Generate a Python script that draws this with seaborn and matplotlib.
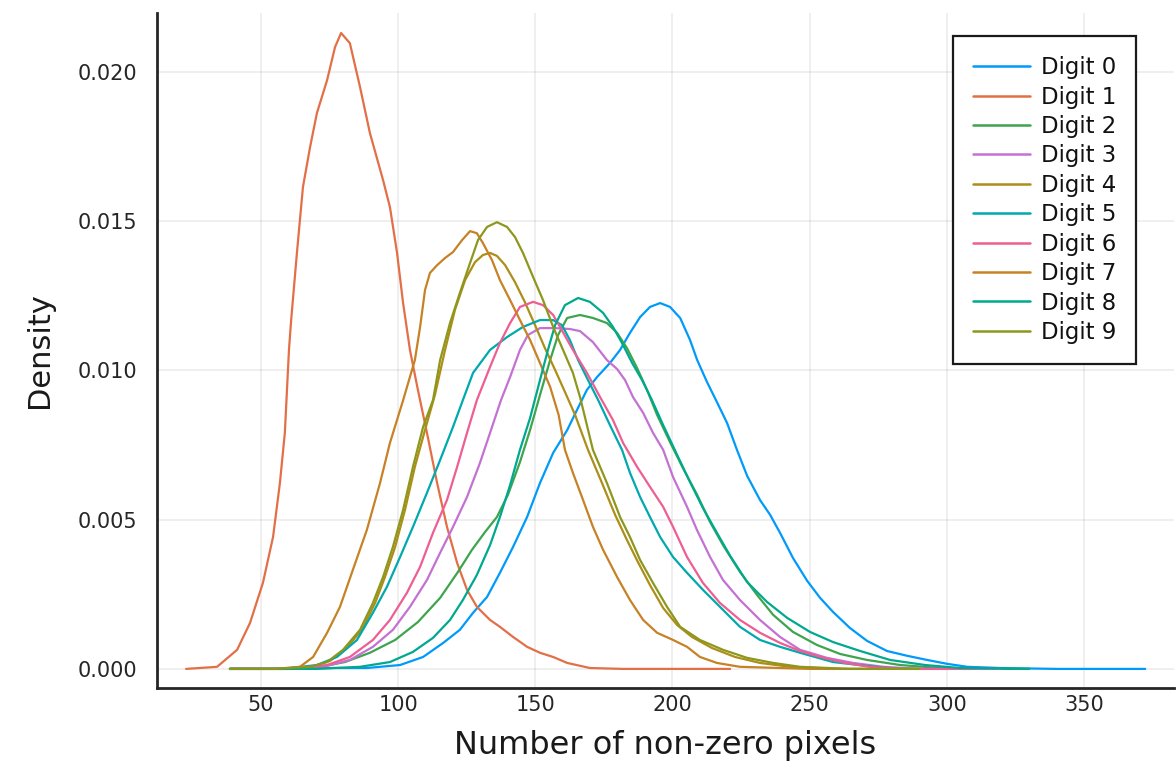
import matplotlib
matplotlib.use("Agg")
import matplotlib.pyplot as plt
from matplotlib.lines import Line2D
import pandas as pd
import seaborn as sns

# Kernel density estimates of the number of non-zero pixels, one curve per digit
digit0_x = [38.7, 64.2, 76.2, 88.6, 100.7, 109.1, 116.4, 122.5, 127.3, 132.4, 137.1, 141.9, 147.0, 151.7,
            156.5, 161.6, 165.2, 168.8, 172.5, 177.2, 180.9, 184.5, 188.2, 191.8, 195.5, 199.1, 202.8, 206.4,
            209.0, 212.6, 216.2, 219.9, 223.5, 227.2, 231.9, 235.6, 239.2, 243.9, 249.1, 253.8, 258.5, 264.7,
            270.9, 278.2, 285.5, 292.8, 300.1, 307.4, 319.4, 340.0, 372.3]
digit0_y = [0, 0, 0.00003, 0.00003, 0.00013, 0.0004, 0.00087, 0.00131, 0.00188, 0.00241, 0.00322, 0.00409,
            0.00509, 0.00623, 0.00724, 0.008, 0.00868, 0.00935, 0.00978, 0.01025, 0.01069, 0.01126, 0.01179,
            0.01213, 0.01226, 0.01213, 0.01176, 0.01102, 0.01035, 0.00961, 0.00894, 0.00824, 0.00734, 0.00647,
            0.00566, 0.00516, 0.00456, 0.00372, 0.00295, 0.00238, 0.00191, 0.00137, 0.00094, 0.0006, 0.00044,
            0.0003, 0.00017, 0.00007, 0.00003, 0.0, 0.0]

digit1_x = [22.7, 34.0, 41.3, 46.0, 50.7, 54.4, 56.9, 58.7, 60.2, 61.0, 63.1, 65.3, 67.9, 70.4, 74.1, 77.0,
            79.2, 82.4, 86.1, 89.7, 94.5, 97.0, 99.6, 101.8, 104.3, 107.2, 110.5, 114.2, 117.8, 121.5, 125.1,
            128.7, 133.5, 137.1, 141.9, 147.0, 151.7, 156.5, 161.6, 169.9, 182.0, 221.0]
digit1_y = [0, 0.00007, 0.00064, 0.00154, 0.00288, 0.00442, 0.00623, 0.00791, 0.01069, 0.01169, 0.01394,
            0.01615, 0.01749, 0.01863, 0.01973, 0.02084, 0.02131, 0.02097, 0.0195, 0.01796, 0.01638, 0.01548,
            0.01394, 0.01226, 0.01069, 0.00935, 0.00791, 0.00623, 0.00476, 0.00355, 0.00265, 0.00208, 0.00164,
            0.00141, 0.00107, 0.00074, 0.00054, 0.0004, 0.0002, 0.00003, 0.0, 0.0]

digit2_x = [38.7, 60.0, 71.5, 80.6, 89.7, 98.9, 107.2, 115.3, 121.8, 126.9, 131.7, 136.0, 140.0, 144.4, 148.1,
            151.7, 155.4, 158.3, 161.6, 166.3, 171.0, 176.1, 179.8, 183.4, 187.1, 190.7, 194.4, 199.1, 203.8,
            209.0, 213.7, 218.4, 224.6, 230.8, 236.7, 243.9, 252.7, 261.1, 270.9, 283.0, 297.5, 312.1, 330.0]
digit2_y = [0, 0, 0.00007, 0.00023, 0.00054, 0.00097, 0.00157, 0.00238, 0.00325, 0.00399, 0.00459, 0.00509,
            0.00583, 0.00693, 0.00801, 0.00918, 0.01035, 0.01119, 0.01176, 0.01186, 0.01176, 0.01159, 0.01126,
            0.01075, 0.01008, 0.00935, 0.00851, 0.0076, 0.00673, 0.00583, 0.00492, 0.00415, 0.00325, 0.00248,
            0.00181, 0.00124, 0.0008, 0.0005, 0.0003, 0.00013, 0.00003, 0, 0]

digit3_x = [38.7, 60.0, 74.1, 82.4, 90.8, 98.1, 104.3, 110.5, 115.3, 120.0, 125.1, 129.8, 133.5, 137.5, 140.8,
            144.4, 147.3, 151.7, 157.2, 162.6, 166.3, 171.0, 176.1, 179.8, 182.7, 185.6, 189.3, 192.9, 196.6,
            200.2, 205.3, 208.9, 213.7, 218.4, 224.6, 231.9, 239.2, 246.5, 256.3, 265.8, 276.8, 290.2, 320.0]
digit3_y = [0, 0, 0.0001, 0.0003, 0.00074, 0.00131, 0.00208, 0.00298, 0.00389, 0.00476, 0.00576, 0.0069,
            0.00791, 0.00901, 0.00978, 0.01069, 0.01119, 0.01142, 0.01142, 0.01139, 0.01132, 0.01095, 0.01035,
            0.01005, 0.00968, 0.00911, 0.00858, 0.00791, 0.00734, 0.00643, 0.00543, 0.00466, 0.00375, 0.00298,
            0.00231, 0.00164, 0.00107, 0.00064, 0.00037, 0.0002, 0.00007, 0, 0]

digit4_x = [38.7, 60.0, 68.6, 75.2, 80.6, 86.8, 91.6, 95.2, 98.9, 102.5, 106.1, 109.8, 113.4, 117.1, 120.7,
            124.4, 128.0, 130.9, 133.5, 136.0, 139.0, 142.6, 146.2, 149.9, 153.5, 157.2, 160.8, 164.5, 169.2,
            174.3, 179.1, 183.4, 187.4, 191.8, 196.6, 201.7, 207.1, 214.4, 222.8, 231.9, 242.9, 261.1, 290.0]
digit4_y = [0, 0, 0.00007, 0.00027, 0.00064, 0.00131, 0.00221, 0.00308, 0.00409, 0.00533, 0.00677, 0.00801,
            0.00918, 0.01069, 0.01203, 0.01303, 0.01363, 0.01387, 0.01394, 0.01384, 0.01353, 0.01296, 0.01229,
            0.01152, 0.01075, 0.01002, 0.00928, 0.00851, 0.00734, 0.00623, 0.00516, 0.00432, 0.00358, 0.00281,
            0.00204, 0.00147, 0.00107, 0.0007, 0.0004, 0.0002, 0.00007, 0, 0]

digit5_x = [38.7, 58.0, 70.4, 77.7, 85.0, 90.8, 95.9, 100.7, 105.4, 110.5, 115.3, 120.0, 123.6, 127.3, 133.5,
            139.7, 145.5, 151.7, 156.5, 159.7, 162.6, 165.6, 169.2, 172.9, 177.2, 181.6, 184.5, 188.2, 191.8,
            195.5, 200.2, 205.3, 211.1, 217.3, 224.6, 231.9, 239.2, 246.5, 258.5, 270.9, 283.0, 310.0]
digit5_y = [0, 0, 0.00013, 0.0004, 0.00097, 0.00188, 0.00275, 0.00375, 0.00476, 0.0059, 0.007, 0.00811,
            0.00901, 0.00992, 0.01069, 0.01112, 0.01146, 0.01169, 0.01169, 0.01152, 0.01102, 0.01035, 0.00968,
            0.00901, 0.00817, 0.00734, 0.00657, 0.00576, 0.00509, 0.00442, 0.00375, 0.00322, 0.00265, 0.00208,
            0.00141, 0.00097, 0.00074, 0.00054, 0.00023, 0.0001, 0, 0]

digit6_x = [38.7, 60.0, 74.1, 82.4, 90.8, 97.0, 103.2, 108.0, 112.7, 117.8, 121.5, 125.1, 128.7, 133.5, 137.1,
            140.8, 144.4, 149.2, 152.8, 156.5, 159.0, 163.7, 168.8, 173.6, 178.3, 182.0, 187.1, 191.8, 196.6,
            200.2, 205.3, 211.1, 217.3, 224.6, 231.9, 239.2, 246.5, 253.8, 262.9, 272.0, 283.0, 310.0]
digit6_y = [0, 0, 0.00013, 0.0004, 0.00097, 0.00164, 0.00255, 0.00342, 0.00456, 0.00566, 0.00677, 0.00791,
            0.00901, 0.01012, 0.01092, 0.01159, 0.01213, 0.0123, 0.01219, 0.01186, 0.01146, 0.01069, 0.00992,
            0.00911, 0.00834, 0.00757, 0.00677, 0.0061, 0.00543, 0.00476, 0.00375, 0.00288, 0.00221, 0.00164,
            0.00121, 0.00087, 0.0006, 0.0004, 0.0002, 0.00007, 0, 0]

digit7_x = [38.7, 55.0, 64.2, 69.0, 74.1, 78.8, 83.5, 88.6, 93.4, 97.0, 101.8, 106.1, 108.0, 109.8, 111.6,
            114.2, 117.1, 120.0, 123.3, 126.2, 128.7, 130.9, 134.2, 137.1, 140.8, 144.4, 148.1, 151.7, 155.4,
            158.5, 160.8, 163.7, 167.4, 171.0, 174.7, 179.8, 184.5, 189.3, 194.4, 200.2, 205.3, 210.0, 216.2,
            224.6, 250.0, 280.0]
digit7_y = [0, 0, 0.00007, 0.0004, 0.00121, 0.00208, 0.00332, 0.00466, 0.00623, 0.00757, 0.009, 0.01035,
            0.01146, 0.0127, 0.01327, 0.01353, 0.01377, 0.01397, 0.01437, 0.01467, 0.0146, 0.01427, 0.0137,
            0.01303, 0.01236, 0.01169, 0.01102, 0.01025, 0.00945, 0.00851, 0.00734, 0.00657, 0.00566, 0.00476,
            0.00399, 0.00308, 0.00231, 0.00164, 0.00121, 0.00097, 0.00074, 0.0004, 0.0002, 0.00007, 0, 0]

digit8_x = [38.7, 70.0, 86.1, 97.0, 105.4, 112.7, 118.9, 123.6, 128.7, 133.5, 137.1, 140.8, 144.4, 148.1,
            151.7, 154.6, 157.2, 160.8, 165.6, 169.9, 174.7, 178.3, 181.6, 185.3, 188.9, 192.5, 196.6, 201.7,
            206.4, 211.1, 216.2, 221.0, 227.2, 234.5, 241.8, 250.1, 258.5, 268.4, 279.3, 292.1, 304.8, 330.0]
digit8_y = [0, 0, 0.00007, 0.00023, 0.00057, 0.00104, 0.00164, 0.00231, 0.00315, 0.00415, 0.00509, 0.00616,
            0.00734, 0.00841, 0.00968, 0.01069, 0.01152, 0.01219, 0.01243, 0.0123, 0.01193, 0.01146, 0.01092,
            0.01025, 0.00968, 0.00901, 0.00817, 0.00717, 0.00626, 0.00539, 0.00456, 0.00379, 0.00291, 0.00224,
            0.00171, 0.00124, 0.0009, 0.0006, 0.0003, 0.00013, 0.00003, 0]

digit9_x = [38.7, 55.0, 67.9, 74.1, 79.9, 86.1, 90.8, 94.5, 98.1, 101.8, 105.4, 109.1, 112.7, 115.3, 118.9,
            122.5, 126.2, 129.1, 132.4, 136.0, 139.7, 142.6, 145.5, 149.2, 152.8, 156.5, 160.1, 163.7, 166.3,
            171.0, 176.1, 180.9, 184.5, 188.2, 192.9, 198.0, 202.8, 210.0, 218.4, 227.2, 236.7, 246.5, 264.7,
            290.0]
digit9_y = [0, 0, 0.00007, 0.00023, 0.00064, 0.00131, 0.00221, 0.00308, 0.00409, 0.00533, 0.00677, 0.00811,
            0.00901, 0.01035, 0.01159, 0.0126, 0.0136, 0.01437, 0.01481, 0.01497, 0.01481, 0.01447, 0.01394,
            0.01313, 0.01236, 0.01146, 0.01069, 0.00992, 0.00911, 0.00734, 0.00623, 0.00509, 0.00442, 0.00365,
            0.00288, 0.00208, 0.00141, 0.00097, 0.00064, 0.00037, 0.0002, 0.00007, 0, 0]

labels = [f"Digit {d}" for d in range(10)]
colors = ["#009AFA", "#E36F47", "#3EA44E", "#C371D2", "#AC8E18",
          "#00A9AD", "#ED5E93", "#C68225", "#00A98D", "#8E971D"]
xs = [digit0_x, digit1_x, digit2_x, digit3_x, digit4_x, digit5_x, digit6_x, digit7_x, digit8_x, digit9_x]
ys = [digit0_y, digit1_y, digit2_y, digit3_y, digit4_y, digit5_y, digit6_y, digit7_y, digit8_y, digit9_y]

frames = []
for lab, x, y in zip(labels, xs, ys):
    frames.append(pd.DataFrame({"pixels": x, "density": y, "digit": lab}))
df = pd.concat(frames, ignore_index=True)

sns.set_theme(style="white")
plt.rcParams["font.family"] = ["DejaVu Sans"]

fig = plt.figure(figsize=(11.76, 7.63), dpi=100)
ax = fig.add_axes([157 / 1176, 75 / 763, 1017 / 1176, 675 / 763])

sns.lineplot(data=df, x="pixels", y="density", hue="digit", hue_order=labels,
             palette=dict(zip(labels, colors)), sort=False, estimator=None,
             linewidth=1.6, legend=False, ax=ax)

ax.set_xlim(12.1, 382.8)
ax.set_ylim(-0.00064, 0.02198)
ax.set_xticks([50, 100, 150, 200, 250, 300, 350])
ax.set_yticks([0.0, 0.005, 0.010, 0.015, 0.020])
ax.set_yticklabels(["0.000", "0.005", "0.010", "0.015", "0.020"])

ax.grid(True, color="black", alpha=0.07, linewidth=1.3)
for side in ("top", "right"):
    ax.spines[side].set_visible(False)
for side in ("left", "bottom"):
    ax.spines[side].set_color("#262626")
    ax.spines[side].set_linewidth(2.0)
ax.tick_params(direction="in", length=7, width=1.6, colors="#262626",
               labelsize=15, labelcolor="#262626")
ax.tick_params(axis="y", pad=14)
ax.tick_params(axis="x", pad=5)

ax.set_xlabel("Number of non-zero pixels", fontsize=23, color="#1a1a1a", labelpad=11)
ax.set_ylabel("Density", fontsize=22, color="#1a1a1a", labelpad=17)

handles = [Line2D([0], [0], color=c, lw=1.8) for c in colors]
leg = ax.legend(handles, labels, loc="upper left",
                bbox_to_anchor=(953 / 1176, 1 - 36 / 763), bbox_transform=fig.transFigure,
                fontsize=16.5, frameon=True, fancybox=False, framealpha=1,
                edgecolor="#1a1a1a", borderpad=0.88, handlelength=2.5,
                handletextpad=0.45, labelspacing=0.28, borderaxespad=0,
                labelcolor="#111111")
leg.get_frame().set_linewidth(1.6)

fig.savefig("out.png", dpi=100)
